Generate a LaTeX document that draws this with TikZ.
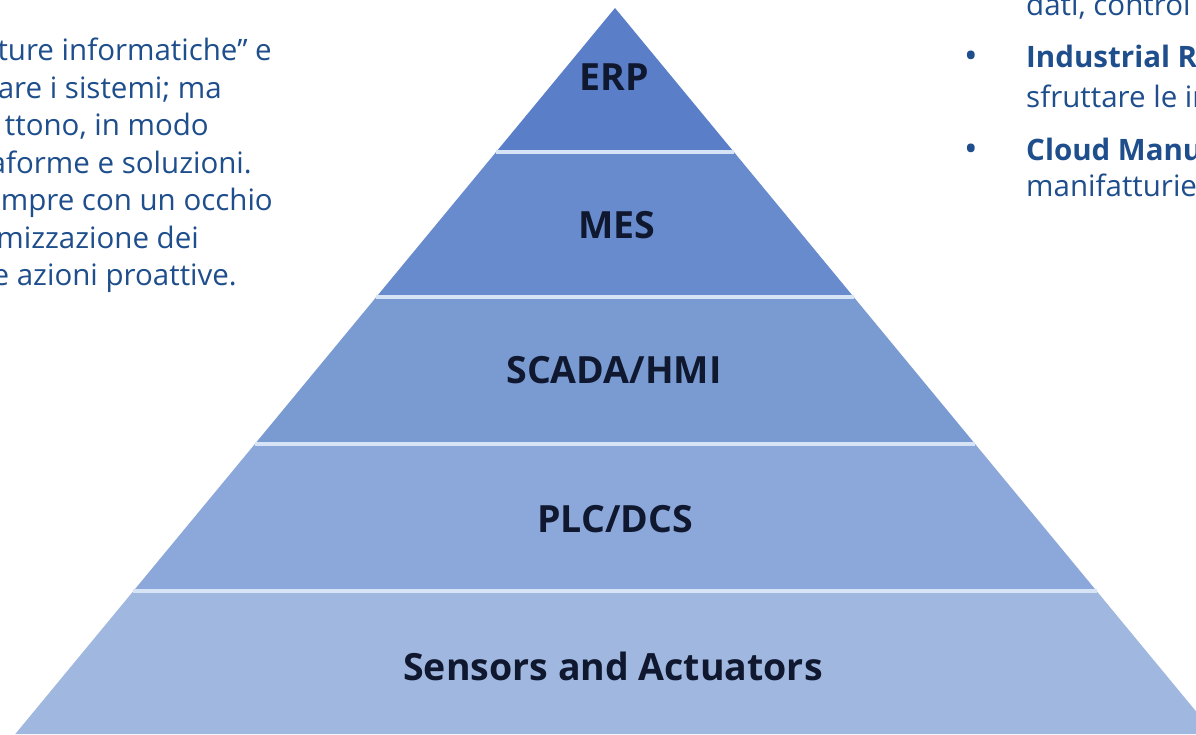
\documentclass[tikz,border=0pt]{standalone}
\usepackage{fontspec}
\setmainfont{Open Sans}
\definecolor{bodytext}{RGB}{30,78,140}
\definecolor{labeltext}{RGB}{16,24,48}
\definecolor{bandA}{RGB}{90,126,200}
\definecolor{bandB}{RGB}{104,139,205}
\definecolor{bandC}{RGB}{122,155,210}
\definecolor{bandD}{RGB}{140,168,218}
\definecolor{bandE}{RGB}{160,183,224}
\definecolor{gapline}{RGB}{214,228,246}
\tikzset{
  para/.style={inner sep=0pt, text=bodytext, font=\fontsize{29.5}{35}\selectfont},
  paraB/.style={para, font=\fontsize{29.5}{35}\selectfont\bfseries},
  dot/.style={inner sep=0pt, text=bodytext, font=\fontsize{36}{36}\selectfont},
  level/.style={inner sep=0pt, text=labeltext, font=\fontsize{37.5}{42}\selectfont\bfseries, anchor=base},
  sep/.style={gapline, line width=3.5pt}
}
\begin{document}
\begin{tikzpicture}[x=1pt,y=-1pt]
\useasboundingbox (0,0) rectangle (1196,734);
\clip (0,0) rectangle (1196,734);
\fill[white] (0,0) rectangle (1196,734);

% pyramid bands, top to bottom
\fill[bandA] (615,8) -- (733.9,152) -- (496.1,152) -- cycle;
\fill[bandB] (496.1,152) -- (733.9,152) -- (853.7,297) -- (376.3,297) -- cycle;
\fill[bandC] (376.3,297) -- (853.7,297) -- (975.1,444) -- (254.9,444) -- cycle;
\fill[bandD] (254.9,444) -- (975.1,444) -- (1096.6,591) -- (133.4,591) -- cycle;
\fill[bandE] (133.4,591) -- (1096.6,591) -- (1214.7,734) -- (15.3,734) -- cycle;

% light separators between the levels
\draw[sep] (496.1,152) -- (733.9,152);
\draw[sep] (376.3,297) -- (853.7,297);
\draw[sep] (254.9,444) -- (975.1,444);
\draw[sep] (133.4,591) -- (1096.6,591);

% level labels
\node[level] (erp) at (614,90) {ERP};
\node[level] (mes) at (617,238) {MES};
\node[level] (scada) at (614,383) {SCADA/HMI};
\node[level] (plc) at (615,532) {PLC/DCS};
\node[level] (sens) at (613,680) {Sensors and Actuators};

% left paragraph
\node[para, anchor=base east] (l1) at (272,60) {ture informatiche” e};
\node[para, anchor=base east] (l2) at (222,98) {are i sistemi; ma};
\node[para, anchor=base east] (l3) at (209,135) {ttono, in modo};
\node[para, anchor=base east] (l4) at (252,173) {aforme e soluzioni.};
\node[para, anchor=base east] (l5) at (273,210) {mpre con un occhio};
\node[para, anchor=base east] (l6) at (199,248) {mizzazione dei};
\node[para, anchor=base east] (l7) at (237,285) {e azioni proattive.};

% right bullet list
\node[para, anchor=base west] (r0) at (1026,15) {dati, control};
\node[dot, anchor=base] (b1) at (971,68) {•};
\node[paraB, anchor=base west] (r1) at (1026,67) {Industrial R};
\node[para, anchor=base west] (r2) at (1026,107) {sfruttare le in};
\node[dot, anchor=base] (b2) at (971,161) {•};
\node[paraB, anchor=base west] (r3) at (1026,160) {Cloud Manu};
\node[para, anchor=base west] (r4) at (1026,196) {manifatturie};
\end{tikzpicture}
\end{document}
